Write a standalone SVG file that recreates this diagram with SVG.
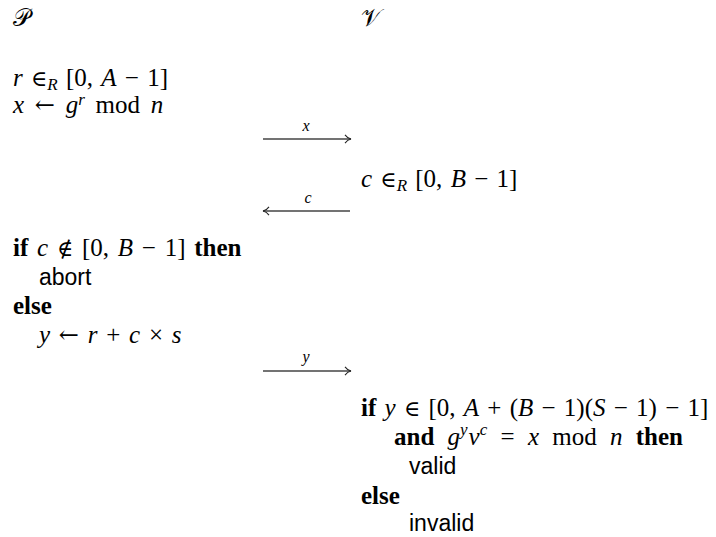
<svg xmlns="http://www.w3.org/2000/svg" width="716" height="537" viewBox="0 0 716 537">
<style>
text { font-family: "Liberation Serif", "DejaVu Serif", serif; font-size: 25px; fill: #000; }
.i { font-style: italic; }
.b { font-weight: bold; }
.sup { font-size: 17px; font-style: italic; }
.op { font-family: "DejaVu Serif", serif; font-size: 22px; }
.ar { font-family: "DejaVu Serif", serif; font-size: 24px; }
.s { font-family: "Liberation Sans", "DejaVu Sans", sans-serif; font-size: 23px; }
.lbl { font-size: 16px; font-style: italic; text-anchor: middle; }
.cal { font-family: "DejaVu Sans", "Noto Sans", sans-serif; font-size: 24px; }
.arr { stroke: #444; stroke-width: 1.3; fill: none; }
</style>
<defs>
<marker id="head" viewBox="0 0 10 12" refX="9" refY="6" markerWidth="8" markerHeight="10" markerUnits="userSpaceOnUse" orient="auto">
<path d="M1.5,0.8 Q4.5,5 9,6 Q4.5,7 1.5,11.2" stroke="#222" stroke-width="1.3" fill="none"/>
</marker>
</defs>
<rect width="716" height="537" fill="#fff"/>
<g id="prover-title"><text class="cal" x="13" y="26">𝒫</text></g>
<g id="verifier-title"><text class="cal" x="361" y="26">𝒱</text></g>
<g id="prover-commit">
<text x="13" y="86" word-spacing="2"><tspan class="i">r</tspan> <tspan class="op">∈</tspan><tspan class="sup" dy="4">R</tspan><tspan dy="-4"> [0, </tspan><tspan class="i">A</tspan> − 1]</text>
<text x="13" y="113" word-spacing="4.5"><tspan class="i">x</tspan> <tspan class="ar">←</tspan> <tspan class="i">g</tspan><tspan class="sup" dy="-8">r</tspan><tspan dy="8"> mod </tspan><tspan class="i">n</tspan></text>
</g>
<g id="verifier-challenge">
<text x="361" y="187" word-spacing="2"><tspan class="i">c</tspan> <tspan class="op">∈</tspan><tspan class="sup" dy="4">R</tspan><tspan dy="-4"> [0, </tspan><tspan class="i">B</tspan> − 1]</text>
</g>
<g id="prover-response">
<text x="13" y="256" word-spacing="2.5"><tspan class="b">if</tspan> <tspan class="i">c</tspan> <tspan class="op">∉</tspan> [0, <tspan class="i">B</tspan> − 1] <tspan class="b">then</tspan></text>
<text class="s" x="39" y="285">abort</text>
<text class="b" x="13" y="314">else</text>
<text x="39" y="343" word-spacing="2.5"><tspan class="i">y</tspan> <tspan class="ar">←</tspan> <tspan class="i">r</tspan> + <tspan class="i">c</tspan> × <tspan class="i">s</tspan></text>
</g>
<g id="verifier-check">
<text x="361" y="416" word-spacing="2"><tspan class="b">if</tspan> <tspan class="i">y</tspan> <tspan class="op">∈</tspan> [0, <tspan class="i">A</tspan> + (<tspan class="i">B</tspan> − 1)(<tspan class="i">S</tspan> − 1) − 1]</text>
<text x="394" y="445" word-spacing="7"><tspan class="b">and</tspan> <tspan class="i">g</tspan><tspan class="sup" dy="-10">y</tspan><tspan class="i" dx="1" dy="10">v</tspan><tspan class="sup" dy="-10">c</tspan><tspan dy="10"> = </tspan><tspan class="i">x</tspan> mod <tspan class="i">n</tspan> <tspan class="b">then</tspan></text>
<text class="s" x="409" y="474">valid</text>
<text class="b" x="361" y="504">else</text>
<text class="s" x="409" y="531">invalid</text>
</g>
<g id="connectors">
<line class="arr" x1="263" y1="139" x2="351" y2="139" marker-end="url(#head)"/>
<text class="lbl" x="306" y="131">x</text>
<line class="arr" x1="350" y1="211" x2="263" y2="211" marker-end="url(#head)"/>
<text class="lbl" x="308" y="203">c</text>
<line class="arr" x1="263" y1="371" x2="351" y2="371" marker-end="url(#head)"/>
<text class="lbl" x="306" y="362">y</text>
</g>
</svg>
